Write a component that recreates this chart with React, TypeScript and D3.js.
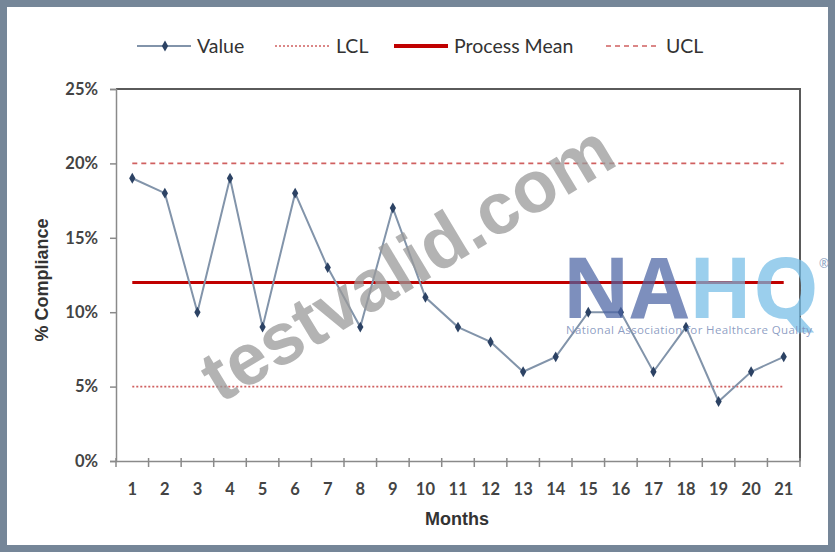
import React, { useEffect, useRef } from 'react';
import * as d3 from 'd3';

const months = d3.range(1, 22).map(String);
const values = [19, 18, 10, 19, 9, 18, 13, 9, 17, 11, 9, 8, 6, 7, 10, 10, 6, 9, 4, 6, 7];
const lcl = 5;
const mean = 12;
const ucl = 20;
const yTicks = [0, 5, 10, 15, 20, 25];
const legendItems = ['Value', 'LCL', 'Process Mean', 'UCL'];

const App: React.FC = () => {
  const svgRef = useRef<SVGSVGElement>(null);

  useEffect(() => {
    const svg = d3.select(svgRef.current);
    svg.selectAll('*').remove();

    const W = 835;
    const H = 552;
    const plot = { left: 116, right: 800, top: 89, bottom: 461 };
    const font = 'Lato, "Open Sans", sans-serif';

    // frame
    svg.append('rect').attr('width', W).attr('height', H).attr('fill', '#758698');
    svg.append('rect').attr('x', 7).attr('y', 7).attr('width', W - 14).attr('height', H - 14).attr('fill', '#fff');

    const x = d3.scaleBand().domain(months).range([plot.left, plot.right]);
    const y = d3.scaleLinear().domain([0, 25]).range([plot.bottom, plot.top]);
    const cx = (m: string) => x(m)! + x.bandwidth() / 2;

    // plot border (top/right darker)
    svg.append('path')
      .attr('d', `M${plot.left},${plot.top}H${plot.right}V${plot.bottom}`)
      .attr('fill', 'none').attr('stroke', '#5a5a5a').attr('stroke-width', 2);

    // y axis
    const yAxis = svg.append('g')
      .attr('transform', `translate(${plot.left},0)`)
      .call(d3.axisLeft(y).tickValues(yTicks).tickSize(6).tickPadding(12).tickFormat(d => `${d}%`));
    yAxis.select('.domain').attr('stroke', '#8a8a8a').attr('stroke-width', 1.5);
    yAxis.selectAll('.tick line').attr('stroke', '#8a8a8a').attr('stroke-width', 1.5);
    yAxis.selectAll('.tick text')
      .attr('font-family', font).attr('font-size', 16.5).attr('font-weight', 700).attr('fill', '#444');

    // x axis
    const xAxis = svg.append('g')
      .attr('transform', `translate(0,${plot.bottom})`)
      .call(d3.axisBottom(x).tickSize(0).tickPadding(22));
    xAxis.select('.domain').attr('stroke', '#8a8a8a').attr('stroke-width', 1.5);
    xAxis.selectAll('.tick text')
      .attr('font-family', font).attr('font-size', 16.5).attr('font-weight', 700).attr('fill', '#444');
    const edges = months.map(m => x(m)!).concat([plot.right]);
    svg.append('g').selectAll('line').data(edges).enter().append('line')
      .attr('x1', d => d).attr('x2', d => d)
      .attr('y1', plot.bottom - 3).attr('y2', plot.bottom + 6)
      .attr('stroke', '#8a8a8a').attr('stroke-width', 1.5);

    // axis titles
    svg.append('text')
      .attr('transform', `translate(48,${(plot.top + plot.bottom) / 2 + 5}) rotate(-90)`)
      .attr('text-anchor', 'middle')
      .attr('font-family', '"Liberation Sans Narrow", "Liberation Sans", Arial, sans-serif')
      .attr('font-weight', 700).attr('font-size', 18).attr('fill', '#333')
      .text('% Compliance');
    svg.append('text')
      .attr('x', 457).attr('y', 525)
      .attr('text-anchor', 'middle')
      .attr('font-family', '"Liberation Sans Narrow", "Liberation Sans", Arial, sans-serif')
      .attr('font-weight', 700).attr('font-size', 18).attr('fill', '#333')
      .text('Months');

    // control lines
    const x0 = cx(months[0]);
    const x1 = cx(months[months.length - 1]);
    svg.append('line').attr('x1', x0).attr('x2', x1).attr('y1', y(ucl)).attr('y2', y(ucl))
      .attr('stroke', '#d06060').attr('stroke-width', 1.6).attr('stroke-dasharray', '5,4');
    svg.append('line').attr('x1', x0).attr('x2', x1).attr('y1', y(lcl)).attr('y2', y(lcl))
      .attr('stroke', '#d06060').attr('stroke-width', 1.6).attr('stroke-dasharray', '2,2');
    svg.append('line').attr('x1', x0).attr('x2', x1).attr('y1', y(mean)).attr('y2', y(mean))
      .attr('stroke', '#c00000').attr('stroke-width', 3);

    // value series
    const line = d3.line<number>().x((_, i) => cx(months[i])).y(d => y(d));
    svg.append('path').datum(values).attr('d', line)
      .attr('fill', 'none').attr('stroke', '#8294aa').attr('stroke-width', 2);
    const diamond = d3.symbol().type(d3.symbolDiamond).size(34);
    svg.append('g').selectAll('path').data(values).enter().append('path')
      .attr('transform', (d, i) => `translate(${cx(months[i])},${y(d)})`)
      .attr('d', diamond)
      .attr('fill', '#2c4264');

    // legend
    const lg = svg.append('g').attr('font-family', font).attr('font-size', 19.5).attr('fill', '#333');
    const ly = 46;
    const lineX = [137, 275, 394, 606];
    const textX = [197, 336, 454, 666];
    const styles = [
      { stroke: '#8294aa', w: 2, dash: null },
      { stroke: '#d06060', w: 1.6, dash: '2,2' },
      { stroke: '#c00000', w: 4, dash: null },
      { stroke: '#d06060', w: 1.6, dash: '5,4' },
    ];
    legendItems.forEach((name, i) => {
      lg.append('line').attr('x1', lineX[i]).attr('x2', lineX[i] + 54).attr('y1', ly).attr('y2', ly)
        .attr('stroke', styles[i].stroke).attr('stroke-width', styles[i].w)
        .attr('stroke-dasharray', styles[i].dash);
      lg.append('text').attr('x', textX[i]).attr('y', ly + 7).text(name);
    });
    lg.append('path').attr('transform', `translate(165,${ly})`).attr('d', diamond).attr('fill', '#2c4264');

    // watermark
    svg.append('text')
      .attr('transform', 'translate(420,284) rotate(-31)')
      .attr('text-anchor', 'middle')
      .attr('font-family', '"Liberation Sans", Arial, sans-serif')
      .attr('font-weight', 700).attr('font-size', 73)
      .attr('fill', '#9a9a9a').attr('fill-opacity', 0.75)
      .text('testvalid.com');

    // NAHQ logo
    const logo = svg.append('g').attr('font-family', '"Open Sans", sans-serif');
    const mark = logo.append('text').attr('x', 562).attr('y', 318).attr('font-size', 84)
      .attr('font-weight', 700).attr('fill-opacity', 0.72);
    mark.append('tspan').attr('fill', '#4b64a4').text('NA');
    mark.append('tspan').attr('fill', '#74bde6').text('HQ');
    logo.append('text').attr('x', 819).attr('y', 268).attr('font-size', 12)
      .attr('fill', '#8aa0c0').text('®');
    logo.append('text').attr('x', 566).attr('y', 334).attr('font-size', 11.5)
      .attr('fill', '#7a8db8').attr('fill-opacity', 0.85)
      .attr('textLength', 246).text('National Association for Healthcare Quality');
  }, []);

  return (
    <svg ref={svgRef} width={835} height={552} style={{ position: 'absolute', left: 0, top: 0 }}></svg>
  );
};

export default App;
